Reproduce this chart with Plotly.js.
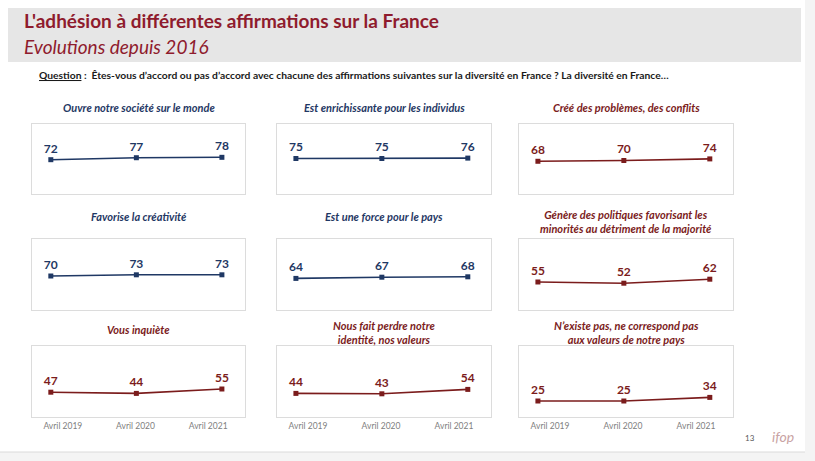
<!DOCTYPE html>
<html><head><meta charset="utf-8">
<script src="https://cdn.plot.ly/plotly-3.0.1.min.js"></script>
<style>html,body{margin:0;padding:0;background:#fff}#c{width:815px;height:461px}</style>
</head><body><div id="c"></div>
<script>
// ---- data ----
const periods = ['Avril 2019', 'Avril 2020', 'Avril 2021'];
const titles = [
  'Ouvre notre société sur le monde',
  'Est enrichissante pour les individus',
  'Créé des problèmes, des conflits',
  'Favorise la créativité',
  'Est une force pour le pays',
  'Génère des politiques favorisant les<br>minorités au détriment de la majorité',
  'Vous inquiète',
  'Nous fait perdre notre<br>identité, nos valeurs',
  'N’existe pas, ne correspond pas<br>aux valeurs de notre pays'
];
const ouvre = [72, 77, 78];
const enrichissante = [75, 75, 76];
const problemes = [68, 70, 74];
const creativite = [70, 73, 73];
const force = [64, 67, 68];
const minorites = [55, 52, 62];
const inquiete = [47, 44, 55];
const identite = [44, 43, 54];
const nexistePas = [25, 25, 34];
const series = [ouvre, enrichissante, problemes, creativite, force, minorites, inquiete, identite, nexistePas];
const tone = ['blue','blue','red','blue','blue','red','red','red','red'];

// ---- styling / layout ----
const W = 815, H = 461;
const BLUE = '#1f3864', RED = '#7b1c1c', TITLE_RED = '#8f1b2d';
const FONT = 'Lato, "Open Sans", sans-serif';
const cols = [[32, 245], [277, 491], [519, 733]];
const rows = [[124, 194], [239, 310], [346, 417]];
const titleY = [[107, 107, 107], [216, 216, 221.5], [329, 332, 332]];
const px = x => x / W, py = y => 1 - y / H;

const data = [];
const layout = {
  width: W, height: H, margin: {l: 0, r: 0, t: 0, b: 0},
  paper_bgcolor: '#ffffff', plot_bgcolor: '#ffffff',
  showlegend: false, font: {family: FONT},
  shapes: [], annotations: []
};

series.forEach((vals, i) => {
  const r = Math.floor(i / 3), c = i % 3, n = i + 1;
  const sfx = n === 1 ? '' : String(n);
  const col = tone[i] === 'blue' ? BLUE : RED;
  data.push({
    type: 'scatter', mode: 'lines+markers+text',
    x: periods, y: vals, xaxis: 'x' + sfx, yaxis: 'y' + sfx,
    text: vals.map(String), textposition: 'top center',
    textfont: {family: FONT, size: 12, color: col, weight: 'bold'},
    line: {color: col, width: 1.6},
    marker: {symbol: 'square', size: 5, color: col},
    cliponaxis: false, hoverinfo: 'skip'
  });
  layout['xaxis' + sfx] = {
    domain: [px(cols[c][0]), px(cols[c][1])], anchor: 'y' + sfx,
    type: 'category', range: [-0.22, 2.27],
    showgrid: false, zeroline: false, showticklabels: false, ticks: '',
    showline: true, mirror: true, linecolor: '#dcdcdc', linewidth: 1
  };
  layout['yaxis' + sfx] = {
    domain: [py(rows[r][1]), py(rows[r][0])], anchor: 'x' + sfx,
    range: [-15, 162.5], showgrid: false, zeroline: false, showticklabels: false, ticks: '',
    showline: true, mirror: true, linecolor: '#dcdcdc', linewidth: 1
  };
  layout.annotations.push({
    xref: 'x' + sfx + ' domain', x: 0.5, yref: 'paper', y: py(titleY[r][c]),
    xanchor: 'center', yanchor: 'middle', showarrow: false, align: 'center',
    text: titles[i],
    font: {family: FONT, size: 11, color: col, style: 'italic', weight: 'bold'}
  });
  // category labels on the bottom row (on a slightly shifted scale, as in the original)
  if (r === 2) {
    const k = 10 + c;
    layout['xaxis' + k] = {
      overlaying: 'x' + sfx, anchor: 'y' + sfx, side: 'bottom',
      range: [-0.425, 2.507], tickmode: 'array', tickvals: [0, 1, 2], ticktext: periods,
      showgrid: false, zeroline: false, showline: false, ticks: '', showticklabels: true,
      tickfont: {family: FONT, size: 8.5, color: '#808080'}, ticklabelstandoff: 2
    };
    data.push({
      type: 'scatter', mode: 'markers', xaxis: 'x' + k, yaxis: 'y' + sfx,
      x: periods.map((_, j) => j), y: periods.map(() => null),
      marker: {opacity: 0}, hoverinfo: 'skip', showlegend: false
    });
  }
});

// header band, frame
layout.shapes.push(
  {type: 'rect', xref: 'paper', yref: 'paper', x0: px(8), x1: px(801), y0: py(62), y1: py(8), fillcolor: '#e6e6e6', line: {width: 0}, layer: 'below'},
  {type: 'rect', xref: 'paper', yref: 'paper', x0: px(805), x1: 1, y0: 0, y1: 1, fillcolor: '#f4f4f4', line: {width: 0}, layer: 'below'},
  {type: 'rect', xref: 'paper', yref: 'paper', x0: 0, x1: px(805), y0: 0, y1: py(452), fillcolor: '#f4f4f4', line: {width: 0}, layer: 'below'},
  {type: 'line', xref: 'paper', yref: 'paper', x0: 0, x1: px(805), y0: py(452), y1: py(452), line: {color: '#dadada', width: 1}}
);

layout.annotations.push(
  {xref: 'paper', yref: 'paper', x: px(22), y: py(21), xanchor: 'left', yanchor: 'middle', showarrow: false,
   text: 'L\'adhésion à différentes affirmations sur la France', font: {family: FONT, size: 19, color: TITLE_RED, weight: 'bold'}},
  {xref: 'paper', yref: 'paper', x: px(22), y: py(46), xanchor: 'left', yanchor: 'middle', showarrow: false,
   text: 'Evolutions depuis 2016', font: {family: FONT, size: 19, color: TITLE_RED, style: 'italic'}},
  {xref: 'paper', yref: 'paper', x: px(37), y: py(75), xanchor: 'left', yanchor: 'middle', showarrow: false,
   text: '<u>Question</u> :  Êtes-vous d’accord ou pas d’accord avec chacune des affirmations suivantes sur la diversité en France ? La diversité en France…',
   font: {family: FONT, size: 10.3, color: '#1a1a1a', weight: 'bold'}},
  {xref: 'paper', yref: 'paper', x: px(750), y: py(438), xanchor: 'center', yanchor: 'middle', showarrow: false,
   text: '13', font: {family: FONT, size: 8, color: '#595959'}},
  {xref: 'paper', yref: 'paper', x: px(783), y: py(436), xanchor: 'center', yanchor: 'middle', showarrow: false,
   text: 'ifop', font: {family: FONT, size: 14, color: '#c9a3a3', style: 'italic'}}
);

Plotly.newPlot('c', data, layout, {staticPlot: true});
</script></body></html>
